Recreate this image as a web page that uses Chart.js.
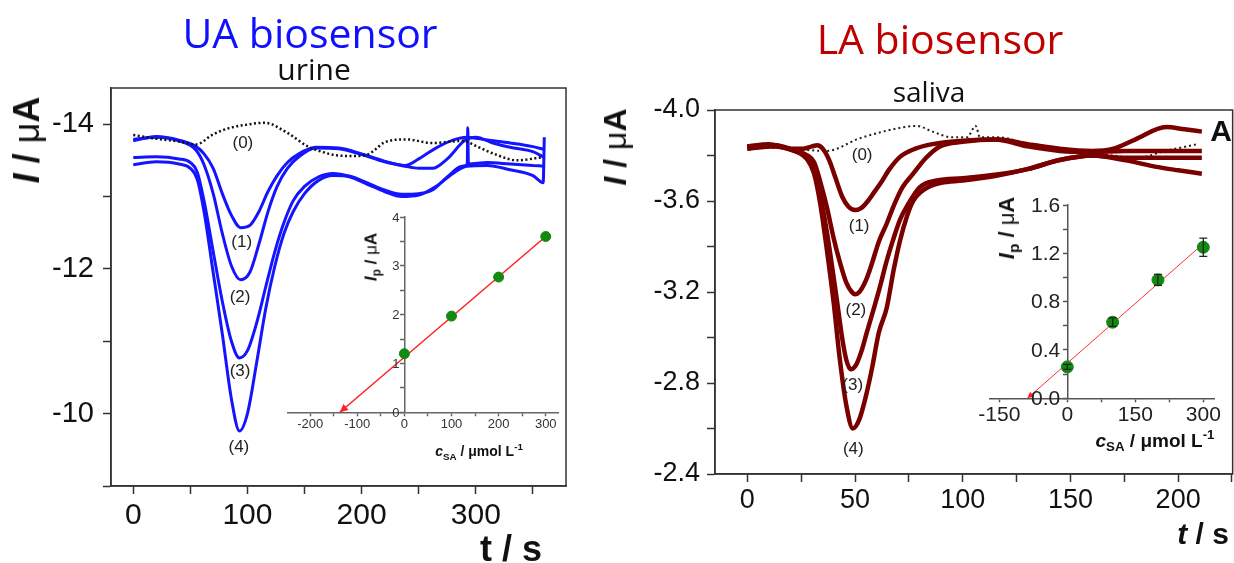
<!DOCTYPE html>
<html>
<head>
<meta charset="utf-8">
<script src="https://cdn.jsdelivr.net/npm/chart.js@4.4.1/dist/chart.umd.min.js"></script>
<style>
  body { margin: 0; background: #fff; }
  #page { position: relative; width: 1234px; height: 563px; overflow: hidden;
          font-family: "Liberation Sans", Arial, sans-serif; color: #111; }
  canvas { position: absolute; }
  .txt { position: absolute; transform: translate(-50%, -50%); white-space: nowrap; line-height: 1; }
  .rot { transform: translate(-50%, -50%) rotate(-90deg); }
  .head { font-family: "Open Sans", sans-serif; }
  .n { font-weight: normal; }
  sub, sup { font-size: 0.7em; line-height: 0; }
</style>
</head>
<body>
<div id="page">
  <canvas id="uaMain" width="600" height="563" style="left:0;top:0"></canvas>
  <canvas id="laMain" width="634" height="563" style="left:600px;top:0"></canvas>
  <canvas id="uaInset" width="300" height="270" style="left:270px;top:190px"></canvas>
  <canvas id="laInset" width="264" height="280" style="left:970px;top:180px"></canvas>

  <div class="txt head" style="left:310px;top:32px;font-size:41px;color:#1010ff">UA biosensor</div>
  <div class="txt head" style="left:314px;top:69px;font-size:30px">urine</div>
  <div class="txt head" style="left:940px;top:38px;font-size:41px;color:#c00000">LA biosensor</div>
  <div class="txt head" style="left:929px;top:91px;font-size:28px">saliva</div>

  <div class="txt rot" style="left:27px;top:140px;font-size:36px"><b><i>I</i> / </b><span class="n">μ</span><b>A</b></div>
  <div class="txt" style="left:511px;top:549px;font-size:36px"><b>t / s</b></div>
  <div class="txt rot" style="left:615px;top:147px;font-size:32px"><b><i>I</i> / </b><span class="n">μ</span><b>A</b></div>
  <div class="txt" style="left:1203px;top:534px;font-size:30px"><b><i>t</i> / s</b></div>
  <div class="txt" style="left:1221px;top:131px;font-size:30px"><b>A</b></div>

  <div class="txt rot" style="left:371px;top:257px;font-size:17px"><b><i>I</i><sub>p</sub> / </b><span class="n">μ</span><b>A</b></div>
  <div class="txt" style="left:479px;top:451px;font-size:14px"><b><i>c</i><sub>SA</sub> / μmol L<sup>-1</sup></b></div>
  <div class="txt rot" style="left:1007px;top:228px;font-size:22px"><b><i>I</i><sub>p</sub> / </b><span class="n">μ</span><b>A</b></div>
  <div class="txt" style="left:1155px;top:440px;font-size:19px"><b><i>c</i><sub>SA</sub> / μmol L<sup>-1</sup></b></div>
</div>

<script>
// UA biosensor in urine: current (µA) against time (s)
const uaT0 = [0, 20, 40, 55, 70, 85, 98, 115, 135, 152, 165, 178, 192, 205, 212, 219, 239, 262, 289, 300, 316, 336, 357];
const uaI0 = [-13.85, -13.8, -13.76, -13.72, -13.86, -13.95, -13.99, -14.02, -13.88, -13.70, -13.62, -13.57, -13.56, -13.58, -13.65, -13.74, -13.79, -13.74, -13.77, -13.70, -13.59, -13.50, -13.54];

const uaT1 = [0, 20, 40, 55, 62, 70, 78, 86, 94, 102, 110, 118, 126, 135, 145, 160, 180, 200, 220, 238, 250, 265, 280, 292, 310, 330, 350, 360];
const uaI1 = [-13.77, -13.83, -13.78, -13.69, -13.59, -13.39, -13.04, -12.74, -12.57, -12.60, -12.79, -13.07, -13.29, -13.47, -13.59, -13.68, -13.67, -13.59, -13.49, -13.43, -13.52, -13.67, -13.78, -13.82, -13.78, -13.74, -13.69, -13.65];

const uaT2 = [0, 20, 40, 55, 62, 70, 78, 86, 94, 102, 110, 118, 126, 135, 145, 160, 180, 200, 220, 238, 250, 262, 275, 290, 300, 315, 330, 350, 360];
const uaI2 = [-13.79, -13.82, -13.77, -13.64, -13.44, -13.04, -12.49, -12.04, -11.85, -11.95, -12.34, -12.79, -13.14, -13.39, -13.55, -13.67, -13.66, -13.58, -13.48, -13.42, -13.39, -13.39, -13.52, -13.77, -13.82, -13.74, -13.68, -13.62, -13.54];

const uaT3 = [0, 20, 40, 50, 56, 62, 70, 78, 86, 93, 100, 108, 116, 124, 132, 140, 150, 162, 175, 190, 205, 220, 235, 250, 262, 275, 288, 292.5, 293, 293.5, 310, 330, 350, 360];
const uaI3 = [-13.54, -13.55, -13.52, -13.47, -13.34, -12.94, -12.24, -11.55, -11.0, -10.77, -10.87, -11.25, -11.75, -12.24, -12.64, -12.94, -13.14, -13.27, -13.32, -13.28, -13.19, -13.09, -13.03, -13.04, -13.09, -13.27, -13.42, -13.44, -13.95, -13.45, -13.47, -13.45, -13.43, -13.42];

const uaT4 = [0, 20, 40, 50, 56, 62, 70, 78, 86, 93, 100, 108, 116, 124, 132, 140, 150, 162, 175, 190, 205, 220, 235, 250, 265, 280, 292, 310, 330, 350, 359, 360];
const uaI4 = [-13.44, -13.48, -13.45, -13.39, -13.24, -12.79, -11.95, -11.10, -10.20, -9.76, -10.0, -10.70, -11.45, -12.04, -12.49, -12.79, -13.04, -13.22, -13.29, -13.27, -13.17, -13.07, -13.0, -13.02, -13.14, -13.32, -13.42, -13.43, -13.37, -13.29, -13.19, -13.82];

// LA biosensor in saliva
const laT0 = [0, 20, 36.8, 52, 70, 78.6, 86, 95, 102, 106, 108, 117, 127, 140, 155, 170, 181, 194, 209];
const laI0 = [-3.84, -3.83, -3.82, -3.875, -3.92, -3.93, -3.905, -3.88, -3.88, -3.93, -3.88, -3.88, -3.86, -3.84, -3.82, -3.80, -3.79, -3.82, -3.85];

const laT1 = [0, 10, 20, 26, 30, 32.5, 35, 38, 41, 44, 47, 50, 53, 56, 59, 62, 66, 71, 78, 86, 100, 117, 130, 145, 160, 170, 180, 194.5, 203, 211];
const laI1 = [-3.84, -3.85, -3.83, -3.83, -3.84, -3.845, -3.83, -3.78, -3.70, -3.62, -3.575, -3.56, -3.57, -3.60, -3.64, -3.68, -3.74, -3.795, -3.83, -3.85, -3.865, -3.87, -3.85, -3.83, -3.82, -3.83, -3.87, -3.925, -3.915, -3.905];

const laT2 = [0, 12, 22, 28, 31, 34, 37, 40, 43, 46, 48.5, 50, 52, 55, 58, 61, 64.7, 68, 72, 77, 83, 89.4, 100, 115, 130, 145, 160, 175, 190, 211];
const laI2 = [-3.83, -3.845, -3.82, -3.80, -3.77, -3.68, -3.57, -3.44, -3.33, -3.24, -3.20, -3.19, -3.20, -3.25, -3.33, -3.42, -3.50, -3.58, -3.66, -3.72, -3.79, -3.84, -3.86, -3.87, -3.84, -3.82, -3.815, -3.82, -3.82, -3.82];

const laT3 = [0, 12, 22, 28, 31, 34, 37, 41.5, 44, 46, 48, 50.5, 53, 55.4, 58.5, 61.5, 64.5, 67.7, 71, 74, 80, 88, 100, 115, 130, 145, 160, 175, 190, 200, 211];
const laI3 = [-3.83, -3.84, -3.82, -3.79, -3.74, -3.62, -3.46, -3.17, -3.00, -2.90, -2.86, -2.88, -2.94, -3.02, -3.12, -3.22, -3.33, -3.43, -3.52, -3.575, -3.66, -3.69, -3.70, -3.715, -3.74, -3.78, -3.80, -3.79, -3.79, -3.79, -3.79];

const laT4 = [0, 12, 22, 28, 31, 34, 37, 40, 43, 46, 49, 52, 55, 58, 61, 64.7, 68, 71, 74, 77, 82, 90, 100, 115, 130, 145, 160, 175, 190, 200, 211];
const laI4 = [-3.84, -3.845, -3.82, -3.78, -3.72, -3.58, -3.38, -3.16, -2.90, -2.70, -2.60, -2.64, -2.74, -2.87, -3.02, -3.13, -3.30, -3.43, -3.53, -3.60, -3.65, -3.68, -3.69, -3.71, -3.74, -3.78, -3.80, -3.78, -3.75, -3.735, -3.72];

// tick positions (labelled ones are picked by the callbacks)
const uaTimeTicks = [0, 50, 100, 150, 200, 250, 300, 350];
const uaCurrentTicks = [-14, -13, -12, -11, -10, -9];
const laTimeTicks = [0, 25, 50, 75, 100, 125, 150, 175, 200, 225];
const laCurrentTicks = [-4.0, -3.8, -3.6, -3.4, -3.2, -3.0, -2.8, -2.6, -2.4];
const uaCsaTicks = [-200, -150, -100, -50, 0, 50, 100, 150, 200, 250, 300];
const uaIpTicks = [0, 0.5, 1, 1.5, 2, 2.5, 3, 3.5, 4];
const uaIpLabels = [0, 1, 2, 3, 4];
const laCsaTicks = [-150, -75, 0, 75, 150, 225, 300];
const laIpTicks = [0, 0.2, 0.4, 0.6, 0.8, 1.0, 1.2, 1.4, 1.6];
const laIpLabels = [0, 0.4, 0.8, 1.2, 1.6];

// curve numbers, placed in data coordinates
const curveNames = ['(0)', '(1)', '(2)', '(3)', '(4)'];
const uaNameT = [96, 95, 93.5, 93.5, 92.5];
const uaNameI = [-13.74, -12.37, -11.61, -10.58, -9.53];
const laNameT = [53.3, 51.9, 50.4, 48.9, 49.2];
const laNameI = [-3.80, -3.49, -3.12, -2.79, -2.51];

// calibration insets: peak current against added SA
const uaCsa = [0, 100, 200, 300];
const uaIp = [1.2, 1.97, 2.77, 3.6];
const uaFitX = [-137, 300];
const uaFitY = [0, 3.6];

const laCsa = [0, 100, 200, 300];
const laIp = [0.26, 0.63, 0.98, 1.25];
const laErr = [0.02, 0.035, 0.045, 0.075];
const laFitX = [-88, 300];
const laFitY = [0, 1.28];

Chart.defaults.font.family = '"Liberation Sans", Arial, sans-serif';
Chart.defaults.color = '#111';

const pts = (xs, ys) => xs.map((x, i) => ({ x: x, y: ys[i] }));

const framePlugin = {
  id: 'frame',
  afterDraw(chart) {
    const { ctx, chartArea: a } = chart;
    ctx.save();
    ctx.strokeStyle = '#333';
    ctx.lineWidth = 1.5;
    ctx.strokeRect(a.left, a.top, a.right - a.left, a.bottom - a.top);
    ctx.restore();
  }
};

const curveLabels = {
  id: 'curveLabels',
  afterDatasetsDraw(chart, args, opts) {
    const { ctx, scales: { x, y } } = chart;
    ctx.save();
    ctx.font = opts.font;
    ctx.fillStyle = '#222';
    ctx.textAlign = 'center';
    ctx.textBaseline = 'middle';
    curveNames.forEach((s, i) => {
      ctx.fillText(s, x.getPixelForValue(opts.t[i]), y.getPixelForValue(opts.v[i]));
    });
    ctx.restore();
  }
};

// arrow head on the fit line, y labels beside the zero line, optional error bars
const insetMarks = {
  id: 'insetMarks',
  afterDatasetsDraw(chart, args, opts) {
    const { ctx, scales: { x, y } } = chart;
    const fit = chart.getDatasetMeta(1).data;
    const p0 = fit[0], p1 = fit[1];
    const ang = Math.atan2(p0.y - p1.y, p0.x - p1.x);
    const L = opts.arrow;
    ctx.save();
    ctx.fillStyle = '#ff2020';
    ctx.beginPath();
    ctx.moveTo(p0.x, p0.y);
    ctx.lineTo(p0.x - L * Math.cos(ang - 0.45), p0.y - L * Math.sin(ang - 0.45));
    ctx.lineTo(p0.x - L * Math.cos(ang + 0.45), p0.y - L * Math.sin(ang + 0.45));
    ctx.closePath();
    ctx.fill();

    ctx.fillStyle = opts.labelColor;
    ctx.font = opts.labelFont;
    ctx.textAlign = 'right';
    ctx.textBaseline = 'middle';
    const x0 = x.getPixelForValue(0);
    opts.labels.forEach(v => {
      ctx.fillText(opts.fmt(v), x0 - opts.gap, y.getPixelForValue(v) + 1);
    });

    if (opts.errors) {
      ctx.strokeStyle = '#222';
      ctx.lineWidth = 1.3;
      opts.xs.forEach((v, i) => {
        const px = x.getPixelForValue(v);
        const lo = y.getPixelForValue(opts.ys[i] - opts.errors[i]);
        const hi = y.getPixelForValue(opts.ys[i] + opts.errors[i]);
        ctx.beginPath();
        ctx.moveTo(px, lo); ctx.lineTo(px, hi);
        ctx.moveTo(px - 4, lo); ctx.lineTo(px + 4, lo);
        ctx.moveTo(px - 4, hi); ctx.lineTo(px + 4, hi);
        ctx.stroke();
      });
    }
    ctx.restore();
  }
};

function trace(xs, ys, color, width, dash) {
  return {
    data: pts(xs, ys),
    borderColor: color,
    borderWidth: width,
    borderDash: dash || [],
    pointRadius: 0,
    cubicInterpolationMode: 'monotone',
    fill: false
  };
}

function axis(opts) {
  return {
    type: 'linear',
    min: opts.min, max: opts.max,
    reverse: !!opts.reverse,
    afterBuildTicks: s => { s.ticks = opts.ticks.map(v => ({ value: v })); },
    afterFit: s => {
      if (opts.size === undefined) return;
      if (s.isHorizontal()) s.height = opts.size; else s.width = opts.size;
    },
    ticks: {
      autoSkip: false, maxRotation: 0,
      padding: opts.pad, color: opts.color || '#111', font: { size: opts.font },
      callback: opts.label
    },
    grid: { drawOnChartArea: false, tickLength: opts.tick, tickWidth: 1.5, tickColor: opts.line || '#333' },
    border: { color: opts.line || '#333', width: 1.5 }
  };
}

function chartOptions(pad, xs, ys, plugins) {
  return {
    responsive: false,
    animation: false,
    events: [],
    layout: { padding: pad },
    plugins: Object.assign({ legend: { display: false }, tooltip: { enabled: false } }, plugins),
    scales: { x: xs, y: ys }
  };
}

// ---- UA biosensor, urine ----
new Chart(document.getElementById('uaMain'), {
  type: 'line',
  data: {
    datasets: [
      trace(uaT0, uaI0, '#111', 2.5, [2, 2.5]),
      trace(uaT1, uaI1, '#1414ff', 3),
      trace(uaT2, uaI2, '#1414ff', 3),
      trace(uaT3, uaI3, '#1414ff', 3),
      trace(uaT4, uaI4, '#1414ff', 3)
    ]
  },
  options: chartOptions({ top: 88, right: 34, left: 0, bottom: 0 },
    axis({ min: -19.5, max: 379, ticks: uaTimeTicks, pad: 4, font: 30, tick: 8, size: 77,
      label: v => (v % 100 === 0 ? v : '') }),
    axis({ min: -14.5, max: -9, reverse: true, ticks: uaCurrentTicks, pad: 9, font: 29, tick: 8, size: 111,
      label: v => (v % 2 === 0 ? v : '') }),
    { curveLabels: { t: uaNameT, v: uaNameI, font: '17px "Liberation Sans", Arial, sans-serif' } }),
  plugins: [framePlugin, curveLabels]
});

// ---- LA biosensor, saliva ----
new Chart(document.getElementById('laMain'), {
  type: 'line',
  data: {
    datasets: [
      trace(laT1, laI1, '#7a0000', 4.5),
      trace(laT2, laI2, '#7a0000', 4.5),
      trace(laT3, laI3, '#7a0000', 4.5),
      trace(laT4, laI4, '#7a0000', 4.5),
      trace(laT0, laI0, '#222', 2, [2, 3])
    ]
  },
  options: chartOptions({ top: 110, right: 1, left: 0, bottom: 0 },
    axis({ min: -15, max: 225.3, ticks: laTimeTicks, pad: 2, font: 27, tick: 8, size: 89,
      label: v => (v % 50 === 0 ? v : '') }),
    axis({ min: -4.0, max: -2.4, reverse: true, ticks: laCurrentTicks, pad: 7, font: 27, tick: 8, size: 115,
      label: v => (Math.round(v * 10) % 4 === 0 ? v.toFixed(1) : '') }),
    { curveLabels: { t: laNameT, v: laNameI, font: '17px "Liberation Sans", Arial, sans-serif' } }),
  plugins: [framePlugin, curveLabels]
});

// ---- calibration insets ----
const uaInY = axis({ min: 0, max: 4, ticks: uaIpTicks, pad: 0, font: 13, tick: 4, line: '#666', label: () => '' });
uaInY.position = { x: 0 };

new Chart(document.getElementById('uaInset'), {
  type: 'scatter',
  data: {
    datasets: [
      { data: pts(uaCsa, uaIp), backgroundColor: '#128a12', borderColor: '#128a12', pointRadius: 5 },
      { data: pts(uaFitX, uaFitY), showLine: true, borderColor: '#ff2020', borderWidth: 1.5, pointRadius: 0 }
    ]
  },
  options: chartOptions({ top: 27, right: 12, left: 18, bottom: 0 },
    axis({ min: -247, max: 326, ticks: uaCsaTicks, pad: 0, font: 13, tick: 4, size: 47.7, color: '#333', line: '#666',
      label: v => (v % 100 === 0 ? v : '') }),
    uaInY,
    { insetMarks: { arrow: 9, labels: uaIpLabels, fmt: v => String(v), gap: 5,
                    labelFont: '13px "Liberation Sans", Arial, sans-serif', labelColor: '#333' } }),
  plugins: [insetMarks]
});

const laInY = axis({ min: 0, max: 1.6, ticks: laIpTicks, pad: 0, font: 21, tick: 4, line: '#555', label: () => '' });
laInY.position = { x: 0 };

new Chart(document.getElementById('laInset'), {
  type: 'scatter',
  data: {
    datasets: [
      { data: pts(laCsa, laIp), backgroundColor: '#128a12', borderColor: '#128a12', pointRadius: 6 },
      { data: pts(laFitX, laFitY), showLine: true, borderColor: '#ff3030', borderWidth: 1, pointRadius: 0 }
    ]
  },
  options: chartOptions({ top: 25, right: 20, left: 20, bottom: 0 },
    axis({ min: -170.5, max: 323.6, ticks: laCsaTicks, pad: 0, font: 21, tick: 4, size: 61.7, color: '#222', line: '#555',
      label: v => (v % 150 === 0 ? v : '') }),
    laInY,
    { insetMarks: { arrow: 7, labels: laIpLabels, fmt: v => v.toFixed(1), gap: 7,
                    labelFont: '21px "Liberation Sans", Arial, sans-serif', labelColor: '#222',
                    errors: laErr, xs: laCsa, ys: laIp } }),
  plugins: [insetMarks]
});
</script>
</body>
</html>
